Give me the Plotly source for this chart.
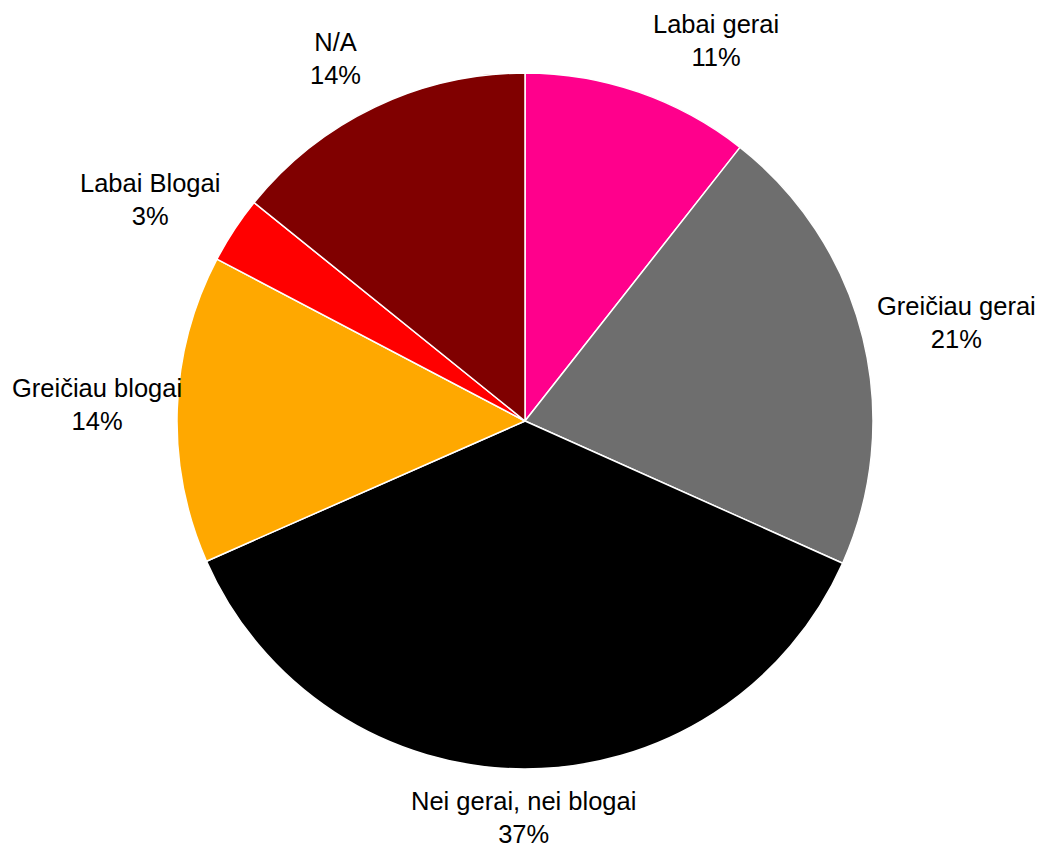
import math
import plotly.graph_objects as go

labels = ["Labai gerai", "Greičiau gerai", "Nei gerai, nei blogai",
          "Greičiau blogai", "Labai Blogai", "N/A"]
values = [10.6, 21.1, 36.7, 14.3, 3.1, 14.2]
colors = ["#FF008C", "#6E6E6E", "#000000", "#FFA800", "#FF0000", "#800000"]

# ---- layout constants (figure pixels) ----
W, H = 1047, 849
CX, CY, R = 517, 413, 348
FS = 25.5
FONT = "Liberation Sans, Arial, sans-serif"

# Arial / Liberation Sans advance widths (per 1000 em) for label width estimate
AW = {" ": 278, "%": 889, "/": 278, ",": 278, "A": 667, "B": 667, "G": 778,
      "L": 556, "N": 722, "a": 556, "b": 556, "e": 556, "g": 556, "i": 222,
      "l": 222, "o": 556, "r": 333, "u": 556, "n": 556, "č": 500, "c": 500}


def text_w(s):
    return sum(AW.get(ch, 556) for ch in s) * FS / 1000


total = sum(values)
pcts = [round(v / total * 100) for v in values]

fig = go.Figure(go.Pie(
    labels=labels,
    values=values,
    sort=False,
    direction="clockwise",
    rotation=0,
    marker=dict(colors=colors, line=dict(color="white", width=1.5)),
    textinfo="none",
    showlegend=False,
    hoverinfo="label+percent",
    domain=dict(x=[(CX - R) / W, (CX + R) / W],
                y=[(H - CY - R) / H, (H - CY + R) / H]),
))

# data labels placed just outside each slice's mid-angle
annotations = []
cum = 0.0
G_Y, HH, G_X, EDGE, DY = 18.5, 33, 12, 6, -2.5
for lab, v, p in zip(labels, values, pcts):
    mid = (cum + v / 2) / total
    cum += v
    th = 2 * math.pi * mid
    ux, uy = math.sin(th), -math.cos(th)
    rx, ry = CX + R * ux, CY + R * uy
    y = ry + uy * (HH + G_Y) + DY
    w = max(text_w(lab), text_w(f"{p}%"))
    if abs(ux) < 0.15:
        xa, x = "center", rx
    elif ux > 0:
        xa, x = "left", rx + G_X
        if x + w > W - EDGE:
            x = W - EDGE - w
    else:
        xa, x = "right", rx - G_X
        if x - w < EDGE:
            x = EDGE + w
    annotations.append(dict(
        x=x / W, y=1 - y / H, xref="paper", yref="paper",
        xanchor=xa, yanchor="middle", align="center",
        text=f"{lab}<br>{p}%", showarrow=False,
        font=dict(family=FONT, size=FS, color="black"),
    ))

fig.update_layout(
    width=W, height=H,
    margin=dict(l=0, r=0, t=0, b=0),
    paper_bgcolor="white",
    plot_bgcolor="white",
    font=dict(family=FONT, color="black"),
    annotations=annotations,
)

fig.write_html("out.html")
